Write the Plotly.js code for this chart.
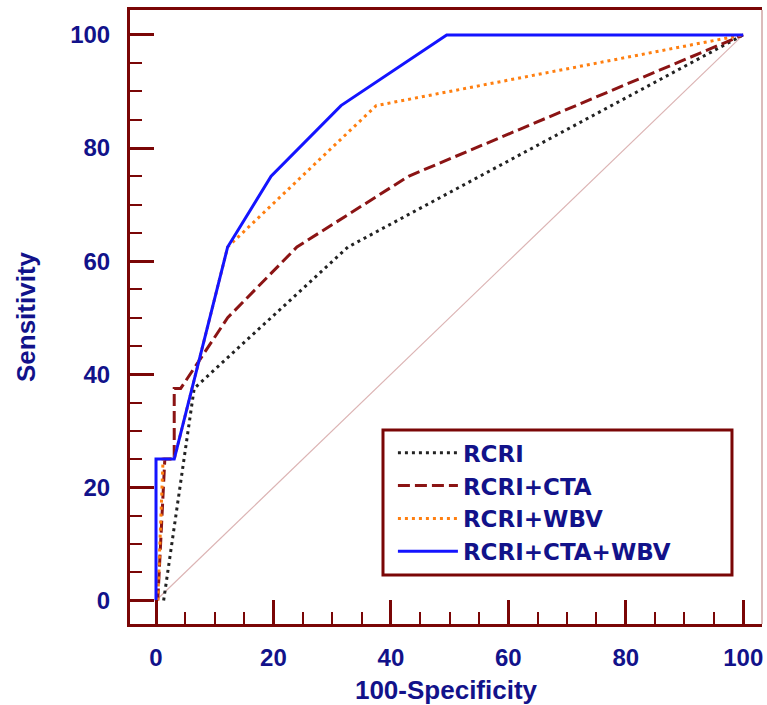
<!DOCTYPE html>
<html>
<head>
<meta charset="utf-8">
<script src="https://cdn.plot.ly/plotly-3.0.1.min.js"></script>
<style>html,body{margin:0;padding:0;background:#fff;}#chart{width:767px;height:705px;}</style>
</head>
<body>
<div id="chart"></div>
<script>
// Series names
const seriesNames = ['RCRI', 'RCRI+CTA', 'RCRI+WBV', 'RCRI+CTA+WBV'];

// 100-Specificity (x) and Sensitivity (y) values
const xRCRI = [1.3, 6.5, 32.7, 100];
const yRCRI = [0, 37.5, 62.5, 100];

const xRCRI_CTA = [0.3, 1.5, 3.1, 3.1, 4.2, 12.2, 24, 43, 100];
const yRCRI_CTA = [0, 25, 25, 37.5, 37.5, 50, 62.5, 75, 100];

const xRCRI_WBV = [0.3, 1.2, 3.1, 12.2, 37.5, 100];
const yRCRI_WBV = [0, 25, 25, 62.5, 87.5, 100];

const xRCRI_CTA_WBV = [0, 0, 3.1, 12.2, 19.6, 31.5, 49.5, 100];
const yRCRI_CTA_WBV = [0, 25, 25, 62.5, 75, 87.5, 100, 100];

// Reference (chance) diagonal
const xDiag = [0, 100];
const yDiag = [0, 100];

// Axis ticks
const tickVals = [0, 20, 40, 60, 80, 100];
const tickText = ['0', '20', '40', '60', '80', '100'];

const navy = '#12128a';
const frame = '#7a0606';
const fontFam = '"Liberation Sans", Arial, sans-serif';

const traces = [
  {x: xDiag, y: yDiag, mode: 'lines', showlegend: false, hoverinfo: 'skip',
   line: {color: '#dcb4b4', width: 1.2}},
  {x: xRCRI, y: yRCRI, mode: 'lines', name: seriesNames[0],
   line: {color: '#222222', width: 3, dash: '3px,4px'}},
  {x: xRCRI_CTA, y: yRCRI_CTA, mode: 'lines', name: seriesNames[1],
   line: {color: '#8b1414', width: 3, dash: '12px,5px'}},
  {x: xRCRI_WBV, y: yRCRI_WBV, mode: 'lines', name: seriesNames[2],
   line: {color: '#ff7f10', width: 3, dash: '3px,4px'}},
  {x: xRCRI_CTA_WBV, y: yRCRI_CTA_WBV, mode: 'lines', name: seriesNames[3],
   line: {color: '#1414ff', width: 3}}
];

const axisCommon = {
  showline: true, linecolor: frame, linewidth: 3,
  showgrid: false, zeroline: false,
  ticks: 'inside', ticklen: 24, tickwidth: 3, tickcolor: frame,
  tickvals: tickVals, ticktext: tickText,
  tickfont: {family: fontFam, size: 24, color: navy, weight: 'bold'},
  minor: {ticks: 'inside', ticklen: 12, tickwidth: 2, tickcolor: frame, dtick: 5, tick0: 0, showgrid: false},
  fixedrange: true
};

const layout = {
  width: 767, height: 705,
  margin: {l: 130, r: 5, t: 10, b: 81},
  paper_bgcolor: '#ffffff', plot_bgcolor: '#ffffff',
  showlegend: true,
  xaxis: Object.assign({}, axisCommon, {
    range: [-4.43, 103.2], mirror: true,
    ticklabelstandoff: 10,
    title: {text: '100-Specificity', standoff: 14,
            font: {family: fontFam, size: 26, color: navy, weight: 'bold'}}
  }),
  yaxis: Object.assign({}, axisCommon, {
    range: [-4.15, 104.4], mirror: false,
    ticklabelstandoff: 12,
    title: {text: 'Sensitivity', standoff: 28,
            font: {family: fontFam, size: 26, color: navy, weight: 'bold'}}
  }),
  legend: {
    x: 0.416, y: 0.314, xanchor: 'left', yanchor: 'top',
    bgcolor: 'rgba(0,0,0,0)', borderwidth: 0,
    itemwidth: 60, tracegroupgap: 0,
    font: {family: '"DejaVu Sans", "Liberation Sans", sans-serif', size: 23, color: navy, weight: 'bold'}
  },
  shapes: [
    {type: 'rect', xref: 'paper', yref: 'paper', x0: 0.4003, x1: 0.9525, y0: 0.0798, y1: 0.316,
     line: {color: frame, width: 3}, fillcolor: '#ffffff', layer: 'below'},
    {type: 'line', xref: 'paper', yref: 'paper', x0: 1, x1: 1, y0: 0, y1: 1,
     line: {color: '#cfa4a4', width: 1.5}}
  ]
};

Plotly.newPlot('chart', traces, layout, {displayModeBar: false, staticPlot: true});
</script>
</body>
</html>
